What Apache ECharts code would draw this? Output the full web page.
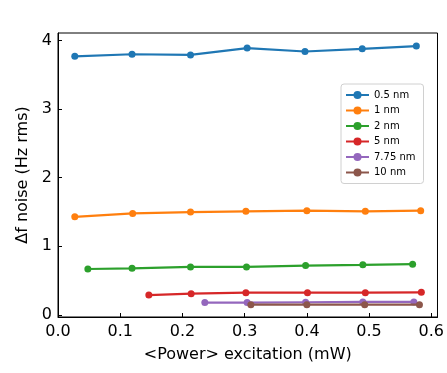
<!DOCTYPE html>
<html><head><meta charset="utf-8">
<script src="https://cdn.jsdelivr.net/npm/echarts@6/dist/echarts.min.js"></script>
<style>html,body{margin:0;padding:0;background:#fff}#c{width:447px;height:373px}</style>
</head><body><div id="c"></div>
<script>
const seriesNames = ['0.5 nm','1 nm','2 nm','5 nm','7.75 nm','10 nm'];
const colors = ['#1f77b4','#ff7f0e','#2ca02c','#d62728','#9467bd','#8c564b'];
const x05 = [0.027,0.119,0.213,0.304,0.397,0.489,0.576];
const y05 = [3.77,3.80,3.79,3.89,3.84,3.88,3.92];
const x1 = [0.027,0.120,0.213,0.302,0.400,0.494,0.583];
const y1 = [1.43,1.48,1.50,1.51,1.52,1.51,1.52];
const x2 = [0.048,0.119,0.213,0.303,0.398,0.490,0.570];
const y2 = [0.67,0.68,0.70,0.70,0.72,0.73,0.74];
const x5 = [0.146,0.214,0.302,0.401,0.494,0.584];
const y5 = [0.29,0.31,0.325,0.325,0.325,0.33];
const x775 = [0.236,0.304,0.398,0.490,0.572];
const y775 = [0.18,0.18,0.185,0.19,0.19];
const x10 = [0.310,0.400,0.493,0.581];
const y10 = [0.15,0.15,0.15,0.15];
const xTicks = [0,0.1,0.2,0.3,0.4,0.5,0.6];
const yTicks = [0,1,2,3,4];
const xs = [x05,x1,x2,x5,x775,x10];
const ys = [y05,y1,y2,y5,y775,y10];
const font = 'DejaVu Sans';
const chart = echarts.init(document.getElementById('c'));
chart.setOption({
  animation:false,
  backgroundColor:'#fff',
  textStyle:{fontFamily:font},
  grid:{left:58,right:8,top:33,bottom:56,show:true,borderColor:'#000',borderWidth:1,backgroundColor:'transparent'},
  legend:{
    orient:'vertical',left:341,top:84,
    data:seriesNames,
    backgroundColor:'#fff',borderColor:'#d0d0d0',borderWidth:1,borderRadius:3,
    padding:[6,8,6,4],itemGap:5.5,itemWidth:23,itemHeight:10,
    textStyle:{fontFamily:font,fontSize:10,color:'#000'}
  },
  xAxis:{
    type:'value',min:0,max:0.61,
    name:'<Power> excitation (mW)',nameLocation:'middle',nameGap:30,
    nameTextStyle:{fontFamily:font,fontSize:16,color:'#000'},
    axisLine:{show:true,onZero:false,lineStyle:{color:'#000',width:1}},
    axisTick:{show:true,inside:true,length:4,customValues:xTicks,lineStyle:{color:'#000'}},
    axisLabel:{customValues:xTicks,fontFamily:font,fontSize:16,color:'#000',margin:7,formatter:v=>v.toFixed(1)},
    splitLine:{show:false}
  },
  yAxis:{
    type:'value',min:-0.03,max:4.11,
    name:'Δf noise (Hz rms)',nameLocation:'middle',nameGap:26,
    nameTextStyle:{fontFamily:font,fontSize:16,color:'#000'},
    axisLine:{show:true,onZero:false,lineStyle:{color:'#000',width:1}},
    axisTick:{show:true,inside:true,length:4,customValues:yTicks,lineStyle:{color:'#000'}},
    axisLabel:{customValues:yTicks,fontFamily:font,fontSize:16,color:'#000',margin:6,formatter:v=>String(v)},
    splitLine:{show:false}
  },
  series:seriesNames.map((n,i)=>({
    name:n,type:'line',
    data:xs[i].map((x,j)=>[x,ys[i][j]]),
    symbol:'circle',symbolSize:7,
    lineStyle:{width:2.2,color:colors[i]},
    itemStyle:{color:colors[i]},
    z:2+i
  }))
});
</script></body></html>
